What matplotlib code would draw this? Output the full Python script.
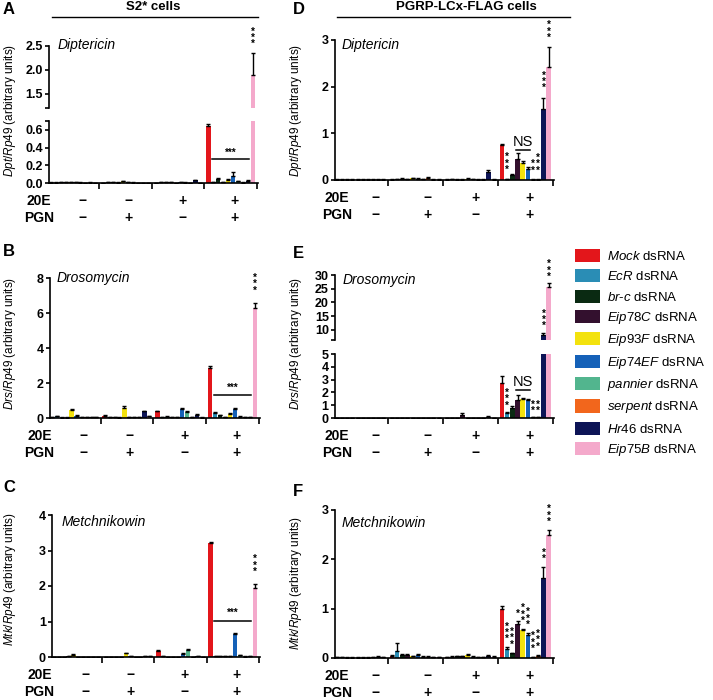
import matplotlib
matplotlib.use('Agg')
import matplotlib.pyplot as plt
from matplotlib.lines import Line2D
from matplotlib.patches import Patch
import numpy as np

plt.rcParams['font.family'] = ['Liberation Sans', 'DejaVu Sans']
plt.rcParams['mathtext.fontset'] = 'custom'
plt.rcParams['mathtext.it'] = 'Liberation Sans:italic'
plt.rcParams['mathtext.rm'] = 'Liberation Sans'
plt.rcParams['mathtext.bf'] = 'Liberation Sans:bold'

W, H = 713, 700

# dsRNA treatments (legend order = bar order in every group)
genes = ['Mock', 'EcR', 'br', 'Eip78C', 'Eip93F', 'Eip74EF', 'pannier', 'serpent', 'Hr46', 'Eip75B']
gene_labels = [r'$\mathit{Mock}$ dsRNA', r'$\mathit{EcR}$ dsRNA', r'$\mathit{br}$-$\mathit{c}$ dsRNA',
               r'$\mathit{Eip78C}$ dsRNA', r'$\mathit{Eip93F}$ dsRNA', r'$\mathit{Eip74EF}$ dsRNA',
               r'$\mathit{pannier}$ dsRNA', r'$\mathit{serpent}$ dsRNA', r'$\mathit{Hr46}$ dsRNA',
               r'$\mathit{Eip75B}$ dsRNA']
colors = ['#E3161B', '#2A8DB5', '#0A2A12', '#33102E', '#F3E20E',
          '#1561B8', '#52B58E', '#F2661C', '#0D1456', '#F4A9CB']

e20_signs = ['\u2212', '\u2212', '+', '+']
pgn_signs = ['\u2212', '+', '\u2212', '+']

# groups: (-20E,-PGN), (-20E,+PGN), (+20E,-PGN), (+20E,+PGN)
dpt_s2 = [[0.005, 0.005, 0.01, 0.008, 0.01, 0.01, 0.005, 0.003, 0.005, 0.004],
          [0.004, 0.006, 0.008, 0.005, 0.02, 0.006, 0.005, 0.003, 0.004, 0.003],
          [0.004, 0.01, 0.008, 0.006, 0.004, 0.01, 0.005, 0.004, 0.03, 0.004],
          [0.64, 0.01, 0.04, 0.01, 0.03, 0.08, 0.02, 0.005, 0.02, 1.9]]
dpt_s2_err = [[0.002, 0.002, 0.003, 0.002, 0.003, 0.003, 0.002, 0.001, 0.002, 0.001],
              [0.001, 0.002, 0.002, 0.002, 0.006, 0.002, 0.002, 0.001, 0.001, 0.001],
              [0.001, 0.003, 0.002, 0.002, 0.001, 0.003, 0.002, 0.001, 0.008, 0.001],
              [0.03, 0.005, 0.02, 0.005, 0.01, 0.04, 0.005, 0.002, 0.01, 0.45]]

drs_s2 = [[0.03, 0.1, 0.02, 0.02, 0.45, 0.12, 0.03, 0.06, 0.05, 0.03],
          [0.12, 0.03, 0.03, 0.02, 0.58, 0.05, 0.06, 0.05, 0.38, 0.1],
          [0.38, 0.05, 0.08, 0.05, 0.05, 0.52, 0.35, 0.04, 0.18, 0.02],
          [2.85, 0.3, 0.15, 0.05, 0.22, 0.52, 0.08, 0.03, 0.03, 6.3]]
drs_s2_err = [[0.01, 0.03, 0.01, 0.01, 0.08, 0.03, 0.01, 0.02, 0.01, 0.01],
              [0.03, 0.01, 0.01, 0.01, 0.08, 0.01, 0.02, 0.01, 0.04, 0.02],
              [0.03, 0.01, 0.02, 0.01, 0.01, 0.05, 0.04, 0.01, 0.03, 0.01],
              [0.1, 0.04, 0.02, 0.01, 0.05, 0.05, 0.02, 0.01, 0.01, 0.3]]

mtk_s2 = [[0.01, 0.01, 0.01, 0.02, 0.06, 0.01, 0.01, 0.01, 0.01, 0.01],
          [0.01, 0.01, 0.01, 0.01, 0.1, 0.02, 0.01, 0.01, 0.03, 0.03],
          [0.17, 0.03, 0.01, 0.01, 0.01, 0.08, 0.2, 0.01, 0.02, 0.01],
          [3.2, 0.03, 0.03, 0.02, 0.03, 0.65, 0.05, 0.01, 0.03, 1.95]]
mtk_s2_err = [[0.003, 0.003, 0.003, 0.005, 0.02, 0.003, 0.003, 0.003, 0.003, 0.003],
              [0.003, 0.003, 0.003, 0.003, 0.02, 0.005, 0.003, 0.003, 0.01, 0.01],
              [0.02, 0.01, 0.003, 0.003, 0.003, 0.02, 0.03, 0.003, 0.005, 0.003],
              [0.05, 0.01, 0.01, 0.005, 0.01, 0.02, 0.01, 0.005, 0.01, 0.1]]

dpt_pg = [[0.01, 0.01, 0.01, 0.01, 0.01, 0.01, 0.01, 0.01, 0.01, 0.01],
          [0.01, 0.02, 0.03, 0.02, 0.04, 0.03, 0.02, 0.05, 0.01, 0.01],
          [0.01, 0.02, 0.01, 0.01, 0.03, 0.02, 0.01, 0.01, 0.17, 0.01],
          [0.75, 0.02, 0.1, 0.44, 0.37, 0.24, 0.01, 0.01, 1.52, 2.42]]
dpt_pg_err = [[0.003, 0.003, 0.003, 0.003, 0.003, 0.003, 0.003, 0.003, 0.003, 0.003],
              [0.003, 0.005, 0.01, 0.005, 0.01, 0.01, 0.005, 0.02, 0.003, 0.003],
              [0.003, 0.005, 0.003, 0.003, 0.01, 0.005, 0.003, 0.003, 0.04, 0.003],
              [0.02, 0.01, 0.02, 0.14, 0.04, 0.03, 0.005, 0.005, 0.24, 0.42]]

drs_pg = [[0.02, 0.02, 0.02, 0.02, 0.02, 0.02, 0.02, 0.02, 0.02, 0.02],
          [0.02, 0.02, 0.02, 0.02, 0.02, 0.02, 0.02, 0.02, 0.02, 0.02],
          [0.02, 0.02, 0.02, 0.2, 0.02, 0.02, 0.02, 0.02, 0.1, 0.02],
          [2.75, 0.4, 0.8, 1.42, 1.45, 1.38, 0.05, 0.05, 8.0, 25.5]]
drs_pg_err = [[0.01, 0.01, 0.01, 0.01, 0.01, 0.01, 0.01, 0.01, 0.01, 0.01],
              [0.01, 0.01, 0.01, 0.01, 0.01, 0.01, 0.01, 0.01, 0.01, 0.01],
              [0.01, 0.01, 0.01, 0.2, 0.01, 0.01, 0.01, 0.01, 0.08, 0.01],
              [0.55, 0.08, 0.1, 0.35, 0.1, 0.1, 0.02, 0.02, 0.7, 1.5]]

mtk_pg = [[0.02, 0.02, 0.01, 0.01, 0.01, 0.01, 0.01, 0.02, 0.03, 0.02],
          [0.05, 0.14, 0.06, 0.06, 0.04, 0.06, 0.03, 0.03, 0.02, 0.02],
          [0.02, 0.03, 0.04, 0.04, 0.06, 0.03, 0.02, 0.02, 0.05, 0.03],
          [1.0, 0.18, 0.1, 0.68, 0.56, 0.47, 0.02, 0.05, 1.63, 2.5]]
mtk_pg_err = [[0.005, 0.005, 0.003, 0.003, 0.003, 0.003, 0.003, 0.005, 0.01, 0.005],
              [0.01, 0.16, 0.02, 0.02, 0.01, 0.02, 0.01, 0.01, 0.005, 0.005],
              [0.005, 0.01, 0.01, 0.01, 0.02, 0.01, 0.005, 0.005, 0.02, 0.01],
              [0.05, 0.04, 0.01, 0.06, 0.03, 0.04, 0.005, 0.02, 0.22, 0.1]]

# bar centres: 4 groups of 10
xpos = np.array([g * 10 + 0.75 + i * 0.94 for g in range(4) for i in range(10)])


def px(l, t, r, b):
    return [l / W, 1 - b / H, (r - l) / W, (b - t) / H]


def draw_bars(ax, vals, errs):
    v = np.array(vals).ravel()
    e = np.array(errs).ravel()
    ax.bar(xpos, v, width=0.84, color=colors * 4, zorder=2)
    ax.errorbar(xpos, v, yerr=[np.zeros_like(e), e], fmt='none', ecolor='black',
                elinewidth=1, capsize=1.3, capthick=1, zorder=3)


def style(ax, ylim, yticks, ylabels, bottom=True):
    ax.set_xlim(0.4, 40.2)
    ax.set_ylim(*ylim)
    ax.set_yticks(yticks)
    ax.set_yticklabels(ylabels, fontsize=9, fontweight='bold')
    for s in ['top', 'right']:
        ax.spines[s].set_visible(False)
    ax.spines['left'].set_linewidth(1.2)
    ax.tick_params(axis='y', direction='out', length=3, width=1.2, pad=1.5)
    if bottom:
        ax.spines['bottom'].set_linewidth(1.2)
        ax.set_xticks([10, 20, 30, 40])
        ax.set_xticklabels([])
        ax.tick_params(axis='x', direction='out', length=4, width=1.2)
    else:
        ax.spines['bottom'].set_visible(False)
        ax.set_xticks([])


def treatments(ax, sx, lab_dx):
    tr = ax.get_xaxis_transform()
    for name, signs, dy in [('20E', e20_signs, -12.8), ('PGN', pgn_signs, -25.5)]:
        ax.annotate(name, xy=(0, 0), xycoords='axes fraction', xytext=(lab_dx, dy),
                    textcoords='offset points', ha='center', va='center',
                    fontsize=10, fontweight='bold', annotation_clip=False)
        for g in range(4):
            ax.annotate(signs[g], xy=(sx[g], 0), xycoords=tr, xytext=(0, dy),
                        textcoords='offset points', ha='center', va='center',
                        fontsize=10, fontweight='bold', annotation_clip=False)


def stars(ax, i, s, vals, errs, pad):
    k = 30 + i
    y = vals[3][i] + errs[3][i] + pad
    ax.text(xpos[k], y, '\n'.join(s), ha='center', va='bottom', fontsize=7,
            fontweight='bold', linespacing=0.55, clip_on=False)


def bracket(ax, i0, i1, y, s, dy, fs, bold=True):
    xa, xb = xpos[30 + i0] - 0.3, xpos[30 + i1] + 0.3
    ax.plot([xa, xb], [y, y], color='black', lw=1.1, clip_on=False)
    ax.text((xa + xb) / 2, y + dy, s, ha='center', va='bottom', fontsize=fs,
            fontweight='bold' if bold else 'normal', clip_on=False)


fig = plt.figure(figsize=(W / 100, H / 100), dpi=100)

sx_left = [6.8, 15.5, 25.8, 35.7]
sx_right = [7.7, 17.3, 25.9, 35.7]

# ---- A: Dpt, S2* (broken axis)
axA1 = fig.add_axes(px(49, 46, 258, 108))
axA2 = fig.add_axes(px(49, 121, 258, 183))
for ax in (axA1, axA2):
    draw_bars(ax, dpt_s2, dpt_s2_err)
style(axA1, (1.2, 2.5), [1.2, 1.5, 2.0, 2.5], ['', '1.5', '2.0', '2.5'], bottom=False)
style(axA2, (0, 0.7), [0, 0.2, 0.4, 0.6, 0.7], ['0.0', '0.2', '0.4', '0.6', ''])
treatments(axA2, sx_left, -7)
bracket(axA2, 1, 8, 0.27, '***', 0.01, 7)
stars(axA1, 9, '***', dpt_s2, dpt_s2_err, 0.08)

# ---- B: Drs, S2*
axB = fig.add_axes(px(50, 278, 260, 418))
draw_bars(axB, drs_s2, drs_s2_err)
style(axB, (0, 8), [0, 2, 4, 6, 8], ['0', '2', '4', '6', '8'])
treatments(axB, sx_left, -7.5)
bracket(axB, 1, 8, 1.3, '***', 0.15, 7)
stars(axB, 9, '***', drs_s2, drs_s2_err, 0.4)

# ---- C: Mtk, S2*
axC = fig.add_axes(px(52, 515, 260, 657))
draw_bars(axC, mtk_s2, mtk_s2_err)
style(axC, (0, 4), [0, 1, 2, 3, 4], ['0', '1', '2', '3', '4'])
treatments(axC, sx_left, -9)
bracket(axC, 1, 8, 1.02, '***', 0.07, 7)
stars(axC, 9, '***', mtk_s2, mtk_s2_err, 0.2)

# ---- D: Dpt, PGRP-LCx
axD = fig.add_axes(px(335, 40, 554, 180))
draw_bars(axD, dpt_pg, dpt_pg_err)
style(axD, (0, 3), [0, 1, 2, 3], ['0', '1', '2', '3'])
treatments(axD, sx_right, 1.5)
bracket(axD, 3, 5, 0.65, 'NS', 0.02, 10.5, bold=False)
for i, s in [(1, '***'), (6, '**'), (7, '***')]:
    stars(axD, i, s, dpt_pg, dpt_pg_err, 0.08)
stars(axD, 8, '***', dpt_pg, dpt_pg_err, 0.1)
stars(axD, 9, '***', dpt_pg, dpt_pg_err, 0.1)

# ---- E: Drs, PGRP-LCx (broken axis)
axE1 = fig.add_axes(px(335, 275, 554, 340))
axE2 = fig.add_axes(px(335, 354, 554, 418))
for ax in (axE1, axE2):
    draw_bars(ax, drs_pg, drs_pg_err)
style(axE1, (6.3, 30), [6.3, 10, 15, 20, 25, 30], ['', '10', '15', '20', '25', '30'], bottom=False)
style(axE2, (0, 5), [0, 1, 2, 3, 4, 5], ['0', '1', '2', '3', '4', '5'])
treatments(axE2, sx_right, 1.5)
bracket(axE2, 3, 5, 2.2, 'NS', 0.05, 10.5, bold=False)
for i, s in [(1, '***'), (6, '**'), (7, '**')]:
    stars(axE2, i, s, drs_pg, drs_pg_err, 0.1)
stars(axE1, 8, '***', drs_pg, drs_pg_err, 0.8)
stars(axE1, 9, '***', drs_pg, drs_pg_err, 0.4)

# ---- F: Mtk, PGRP-LCx
axF = fig.add_axes(px(335, 510, 554, 658))
draw_bars(axF, mtk_pg, mtk_pg_err)
style(axF, (0, 3), [0, 1, 2, 3], ['0', '1', '2', '3'])
treatments(axF, sx_right, 1.5)
for i, s in [(1, '***'), (2, '***'), (3, '*'), (4, '***'), (5, '***'),
             (6, '***'), (7, '***'), (8, '**'), (9, '***')]:
    stars(axF, i, s, mtk_pg, mtk_pg_err, 0.06)

# ---- gene names inside panels
for x0, y0, name in [(58, 45, 'Diptericin'), (57, 278, 'Drosomycin'), (62, 522, 'Metchnikowin'),
                     (342, 45, 'Diptericin'), (343, 280, 'Drosomycin'), (342, 523, 'Metchnikowin')]:
    fig.text(x0 / W, 1 - y0 / H, name, style='italic', fontsize=10, ha='left', va='center')

# ---- y labels
for x0, y0, g in [(10, 110, 'Dpt'), (10, 343, 'Drs'), (10, 579, 'Mtk'),
                  (296, 110, 'Dpt'), (296, 343, 'Drs'), (296, 583, 'Mtk')]:
    fig.text(x0 / W, 1 - y0 / H, r'$\mathit{' + g + r'/Rp49}$ (arbitrary units)',
             rotation=90, ha='center', va='center', fontsize=8.5)

# ---- panel letters
for x0, y0, let in [(3, 10, 'A'), (3, 252, 'B'), (3, 488, 'C'),
                    (293, 10, 'D'), (293, 253, 'E'), (293, 492, 'F')]:
    fig.text(x0 / W, 1 - y0 / H, let, fontsize=12, fontweight='bold', ha='left', va='center')

# ---- column headers
fig.text(153 / W, 1 - 7 / H, 'S2* cells', fontsize=9.5, fontweight='bold', ha='center', va='center')
fig.text(466 / W, 1 - 7 / H, 'PGRP-LCx-FLAG cells', fontsize=9.5, fontweight='bold', ha='center', va='center')
fig.add_artist(Line2D([52 / W, 258 / W], [1 - 17 / H] * 2, color='black', lw=1, transform=fig.transFigure))
fig.add_artist(Line2D([337 / W, 570 / W], [1 - 17 / H] * 2, color='black', lw=1, transform=fig.transFigure))

# ---- legend
handles = [Patch(facecolor=c, edgecolor='none') for c in colors]
fig.legend(handles, gene_labels, loc='upper left', bbox_to_anchor=(575 / W, 1 - 249 / H),
           frameon=False, fontsize=9.5, handlelength=1.9, handleheight=1.15,
           handletextpad=0.5, labelspacing=0.48, borderpad=0, borderaxespad=0)

fig.savefig('out.png', dpi=100)
